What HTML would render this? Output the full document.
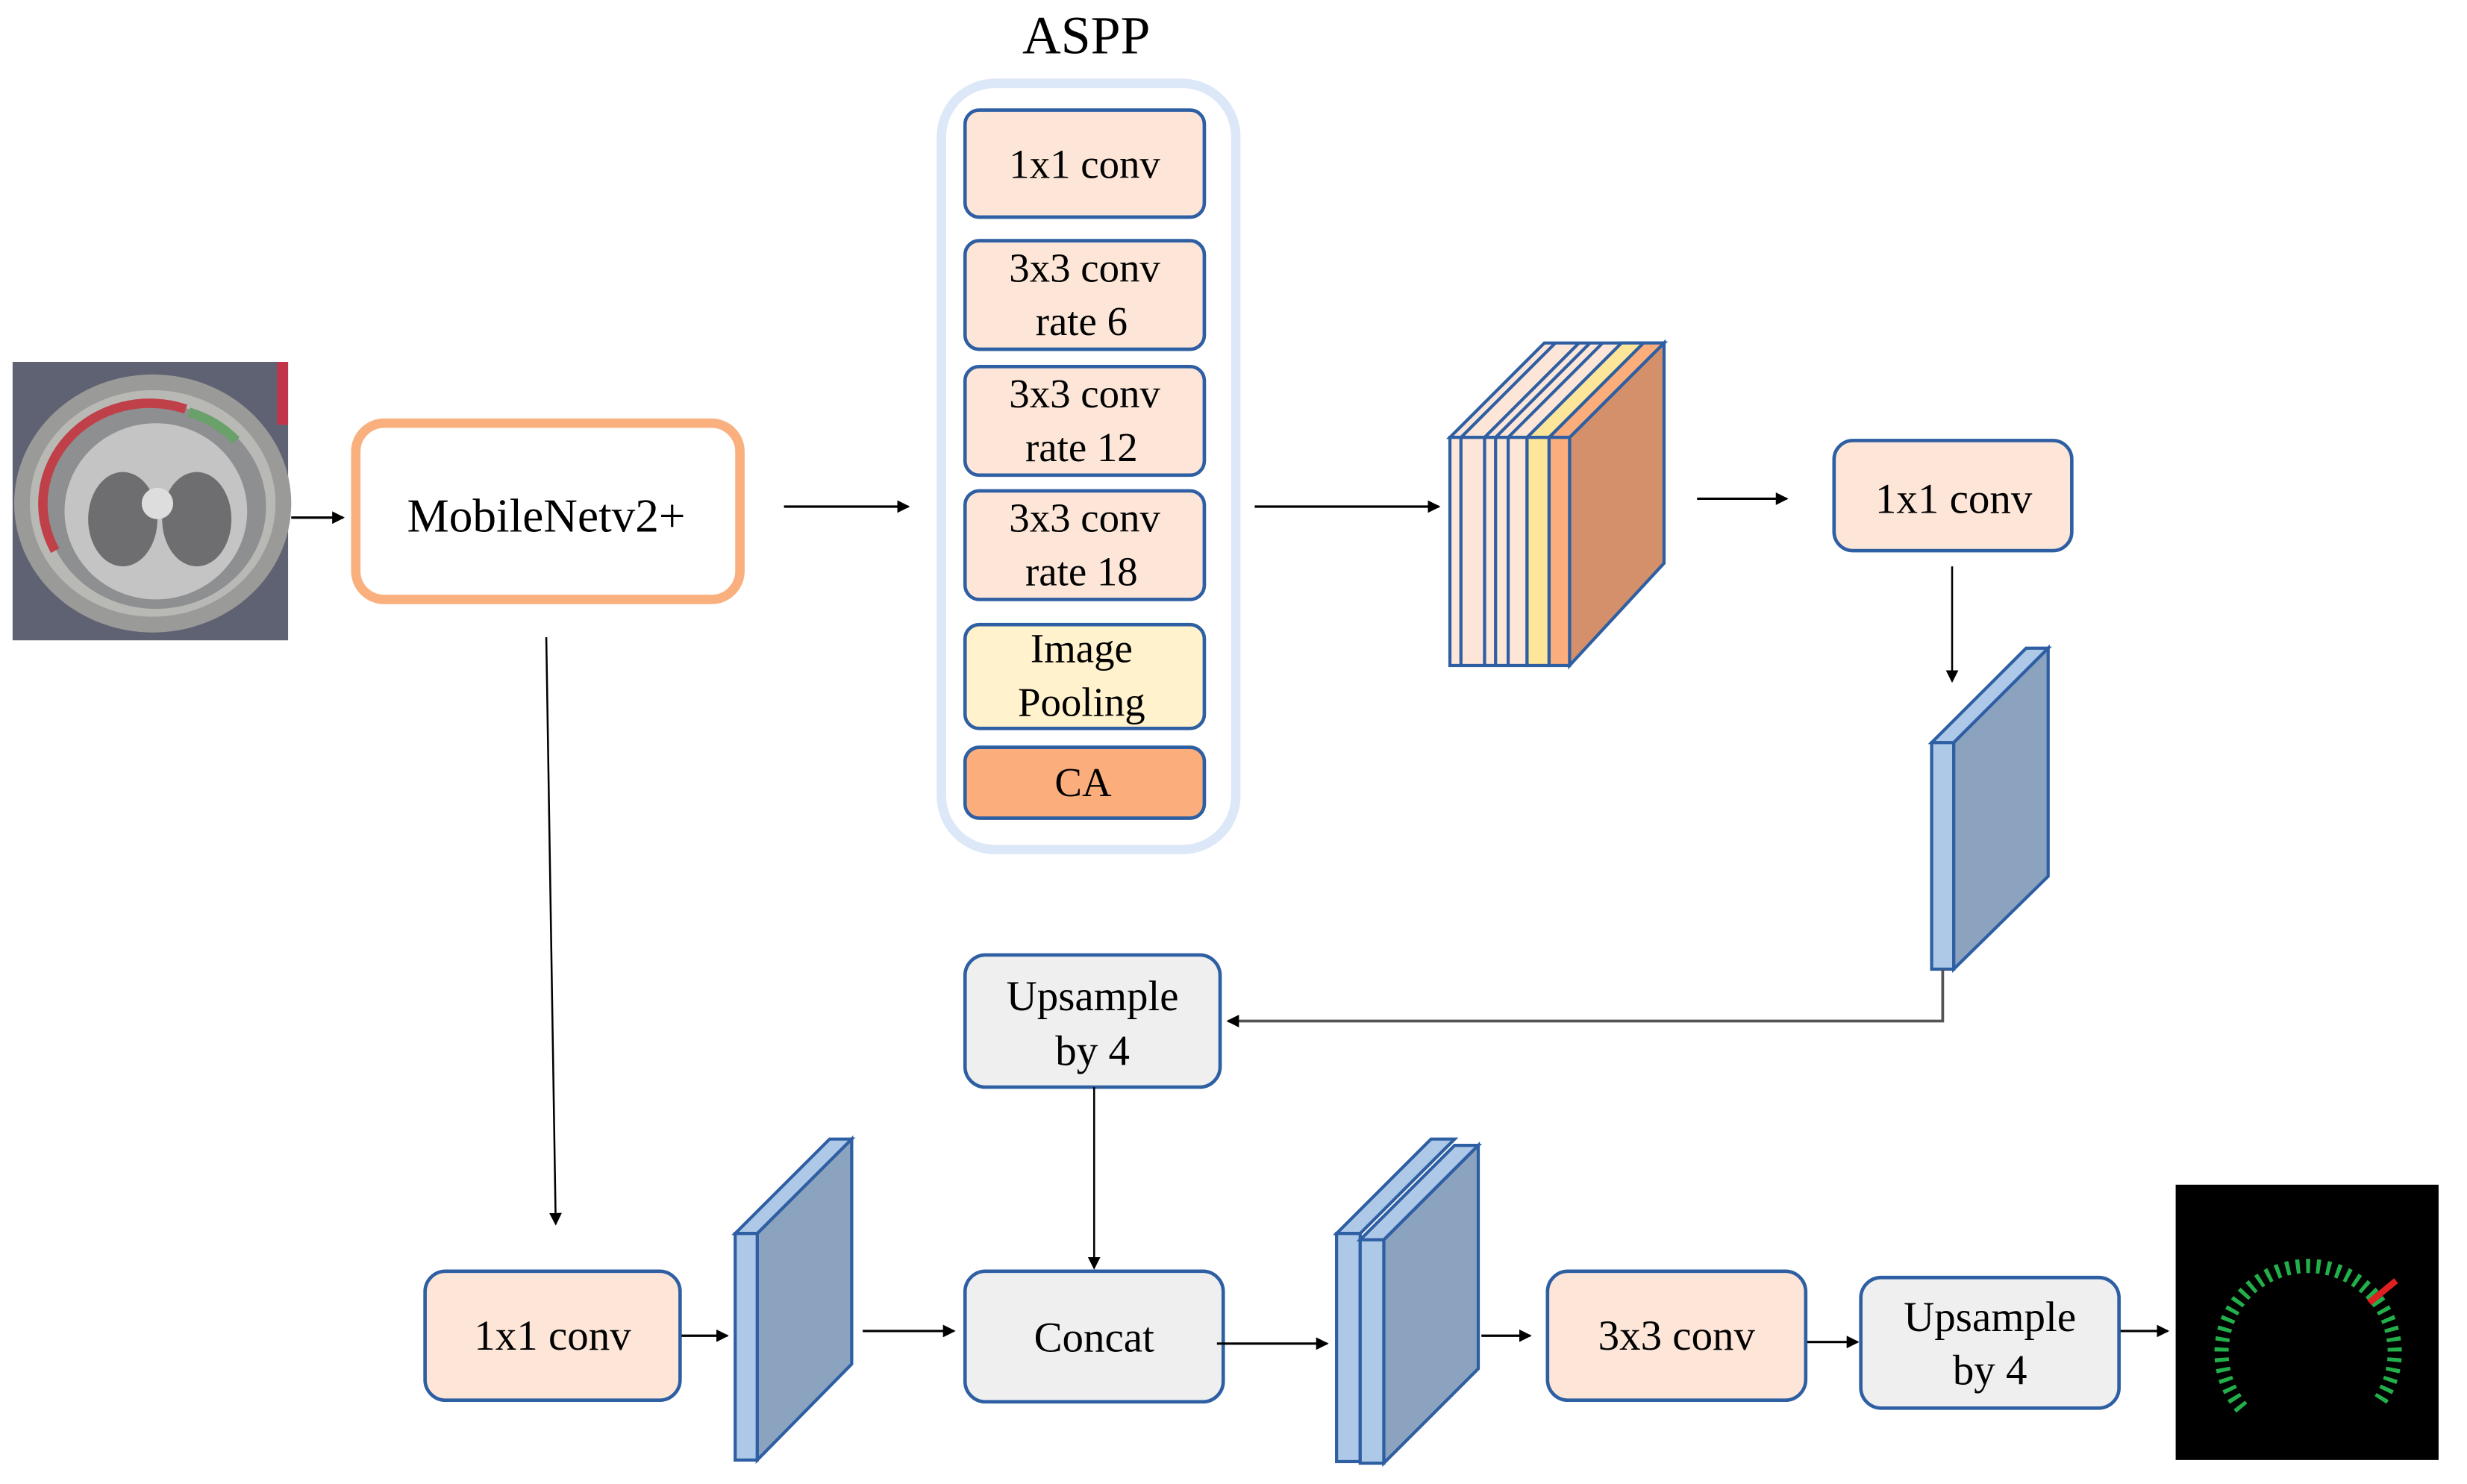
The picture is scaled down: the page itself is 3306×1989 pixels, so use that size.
<!DOCTYPE html>
<html><head><meta charset="utf-8"><style>
html,body{margin:0;padding:0;background:#fff;}
svg{display:block;}
</style></head><body>
<svg width="3306" height="1989" viewBox="0 0 1560 939" preserveAspectRatio="none" xmlns="http://www.w3.org/2000/svg" font-family="'Liberation Serif', 'DejaVu Serif', serif">
<defs>
<marker id="ah" markerWidth="8" markerHeight="8" refX="7" refY="4" orient="auto" markerUnits="userSpaceOnUse">
<path d="M0,0 L8,4 L0,8 z" fill="#000"/></marker>
</defs>
<rect width="1560" height="939" fill="#fff"/>
<g transform="scale(0.9955)">
<rect x="8" y="230" width="175" height="177" fill="#5e6272"/>
<rect x="176" y="230" width="7" height="40" fill="#c0354a"/>
<ellipse cx="97" cy="320" rx="88" ry="82" fill="#9a9a98"/>
<ellipse cx="97" cy="320" rx="78" ry="72" fill="#b8b8b4"/>
<ellipse cx="99" cy="322" rx="70" ry="65" fill="#8d8f90"/>
<path d="M35,350 A68,64 0 0 1 118,260" fill="none" stroke="#c0404a" stroke-width="6"/>
<path d="M120,262 A68,64 0 0 1 150,280" fill="none" stroke="#6aa06a" stroke-width="6"/>
<ellipse cx="99" cy="325" rx="58" ry="56" fill="#c4c4c4"/>
<ellipse cx="78" cy="330" rx="22" ry="30" fill="#6e6e70"/>
<ellipse cx="125" cy="330" rx="22" ry="30" fill="#6e6e70"/>
<circle cx="100" cy="320" r="10" fill="#ddd"/>

<line x1="185" y1="329" x2="218" y2="329" stroke="#000" stroke-width="1.5" marker-end="url(#ah)"/>

<rect x="226" y="269" width="244" height="112" rx="18" fill="#fff" stroke="#f9b07e" stroke-width="6"/>
<text x="347" y="338" font-size="30" text-anchor="middle" font-family="Liberation Serif, serif">MobileNetv2+</text>

<line x1="498" y1="322" x2="577" y2="322" stroke="#000" stroke-width="1.5" marker-end="url(#ah)"/>

<text x="690" y="34" font-size="34" text-anchor="middle" font-family="Liberation Serif, serif">ASPP</text>
<rect x="598" y="53" width="187" height="487" rx="34" fill="#fff" stroke="#dce8f8" stroke-width="6"/>

<g stroke="#2e5fa3" stroke-width="2.2">
<rect x="613" y="70" width="152" height="68" rx="9" fill="#fde6d8"/>
<rect x="613" y="153" width="152" height="69" rx="9" fill="#fde6d8"/>
<rect x="613" y="233" width="152" height="69" rx="9" fill="#fde6d8"/>
<rect x="613" y="312" width="152" height="69" rx="9" fill="#fde6d8"/>
<rect x="613" y="397" width="152" height="66" rx="9" fill="#fff2cc"/>
<rect x="613" y="475" width="152" height="45" rx="9" fill="#fbae7c"/>
</g>
<g font-size="26" text-anchor="middle" font-family="Liberation Serif, serif">
<text x="689" y="113">1x1 conv</text>
<text x="689" y="179">3x3 conv</text>
<text x="687" y="213">rate 6</text>
<text x="689" y="259">3x3 conv</text>
<text x="687" y="293">rate 12</text>
<text x="689" y="338">3x3 conv</text>
<text x="687" y="372">rate 18</text>
<text x="687" y="421">Image</text>
<text x="687" y="455">Pooling</text>
<text x="688" y="506">CA</text>
</g>

<line x1="797" y1="322" x2="914" y2="322" stroke="#000" stroke-width="1.5" marker-end="url(#ah)"/>

<g stroke="#2e5fa3" stroke-width="2">
<polygon points="997,278 1057,218 1057,358 997,423" fill="#d4906a"/>
<polygon points="921,278 981,218 1057,218 997,278" fill="#fde6d8"/>
<polygon points="970,278 1030,218 1044,218 984,278" fill="#fde599"/>
<polygon points="984,278 1044,218 1057,218 997,278" fill="#fbae7c"/>
<rect x="921" y="278" width="49" height="145" fill="#fde6d8"/>
<rect x="970" y="278" width="14" height="145" fill="#fde599"/>
<rect x="984" y="278" width="13" height="145" fill="#fbae7c"/>
<line x1="928" y1="278" x2="928" y2="423"/><line x1="928" y1="278" x2="988" y2="218"/>
<line x1="943" y1="278" x2="943" y2="423"/><line x1="943" y1="278" x2="1003" y2="218"/>
<line x1="950" y1="278" x2="950" y2="423"/><line x1="950" y1="278" x2="1010" y2="218"/>
<line x1="958" y1="278" x2="958" y2="423"/><line x1="958" y1="278" x2="1018" y2="218"/>
</g>

<line x1="1078" y1="317" x2="1135" y2="317" stroke="#000" stroke-width="1.5" marker-end="url(#ah)"/>

<rect x="1165" y="280" width="151" height="70" rx="12" fill="#fde6d8" stroke="#2e5fa3" stroke-width="2.2"/>
<text x="1241" y="326" font-size="27" text-anchor="middle" font-family="Liberation Serif, serif">1x1 conv</text>

<line x1="1240" y1="360" x2="1240" y2="433" stroke="#000" stroke-width="1.2" marker-end="url(#ah)"/>

<g stroke="#2e5fa3" stroke-width="2">
<polygon points="1241,472 1301,412 1301,557 1241,616" fill="#8ca3bf"/>
<polygon points="1227,472 1287,412 1301,412 1241,472" fill="#aec8e8"/>
<rect x="1227" y="472" width="14" height="144" fill="#aec8e8"/>
</g>

<polyline points="1234,616 1234,649 780,649" fill="none" stroke="#555" stroke-width="1.8" marker-end="url(#ah)"/>

<rect x="613" y="607" width="162" height="84" rx="13" fill="#efefef" stroke="#2e5fa3" stroke-width="2.2"/>
<text x="694" y="642" font-size="27" text-anchor="middle" font-family="Liberation Serif, serif">Upsample</text>
<text x="694" y="677" font-size="27" text-anchor="middle" font-family="Liberation Serif, serif">by 4</text>

<line x1="695" y1="691" x2="695" y2="806" stroke="#000" stroke-width="1.2" marker-end="url(#ah)"/>
<line x1="347" y1="405" x2="353" y2="778" stroke="#000" stroke-width="1.2" marker-end="url(#ah)"/>

<rect x="270" y="808" width="162" height="82" rx="13" fill="#fde6d8" stroke="#2e5fa3" stroke-width="2.2"/>
<text x="351" y="858" font-size="27" text-anchor="middle" font-family="Liberation Serif, serif">1x1 conv</text>
<line x1="433" y1="849" x2="462" y2="849" stroke="#000" stroke-width="1.5" marker-end="url(#ah)"/>

<g stroke="#2e5fa3" stroke-width="2">
<polygon points="481,784 541,724 541,867 481,928" fill="#8ca3bf"/>
<polygon points="467,784 527,724 541,724 481,784" fill="#aec8e8"/>
<rect x="467" y="784" width="14" height="144" fill="#aec8e8"/>
</g>
<line x1="548" y1="846" x2="606" y2="846" stroke="#000" stroke-width="1.5" marker-end="url(#ah)"/>

<rect x="613" y="808" width="164" height="83" rx="13" fill="#efefef" stroke="#2e5fa3" stroke-width="2.2"/>
<text x="695" y="859" font-size="27" text-anchor="middle" font-family="Liberation Serif, serif">Concat</text>
<line x1="773" y1="854" x2="843" y2="854" stroke="#000" stroke-width="1.5" marker-end="url(#ah)"/>

<g stroke="#2e5fa3" stroke-width="2">
<polygon points="849,784 909,724 924,724 864,784" fill="#aec8e8"/>
<rect x="849" y="784" width="15" height="145" fill="#aec8e8"/>
<polygon points="879,788 939,728 939,870 879,930" fill="#8ca3bf"/>
<polygon points="864,788 924,728 939,728 879,788" fill="#aec8e8"/>
<rect x="864" y="788" width="15" height="142" fill="#aec8e8"/>
</g>
<line x1="941" y1="849" x2="972" y2="849" stroke="#000" stroke-width="1.5" marker-end="url(#ah)"/>

<rect x="983" y="808" width="164" height="82" rx="13" fill="#fde6d8" stroke="#2e5fa3" stroke-width="2.2"/>
<text x="1065" y="858" font-size="27" text-anchor="middle" font-family="Liberation Serif, serif">3x3 conv</text>
<line x1="1148" y1="853" x2="1180" y2="853" stroke="#000" stroke-width="1.5" marker-end="url(#ah)"/>

<rect x="1182" y="812" width="164" height="83" rx="13" fill="#efefef" stroke="#2e5fa3" stroke-width="2.2"/>
<text x="1264" y="846" font-size="27" text-anchor="middle" font-family="Liberation Serif, serif">Upsample</text>
<text x="1264" y="880" font-size="27" text-anchor="middle" font-family="Liberation Serif, serif">by 4</text>
<line x1="1347" y1="846" x2="1377" y2="846" stroke="#000" stroke-width="1.5" marker-end="url(#ah)"/>

<rect x="1382" y="753" width="167" height="175" fill="#000"/>
<path d="M1424,895 A55,55 0 1 1 1512,890" fill="none" stroke="#22b04a" stroke-width="9" stroke-dasharray="2.5 4"/>
<line x1="1505" y1="828" x2="1522" y2="814" stroke="#e02020" stroke-width="4"/>
</g>
</svg>
</body></html>
